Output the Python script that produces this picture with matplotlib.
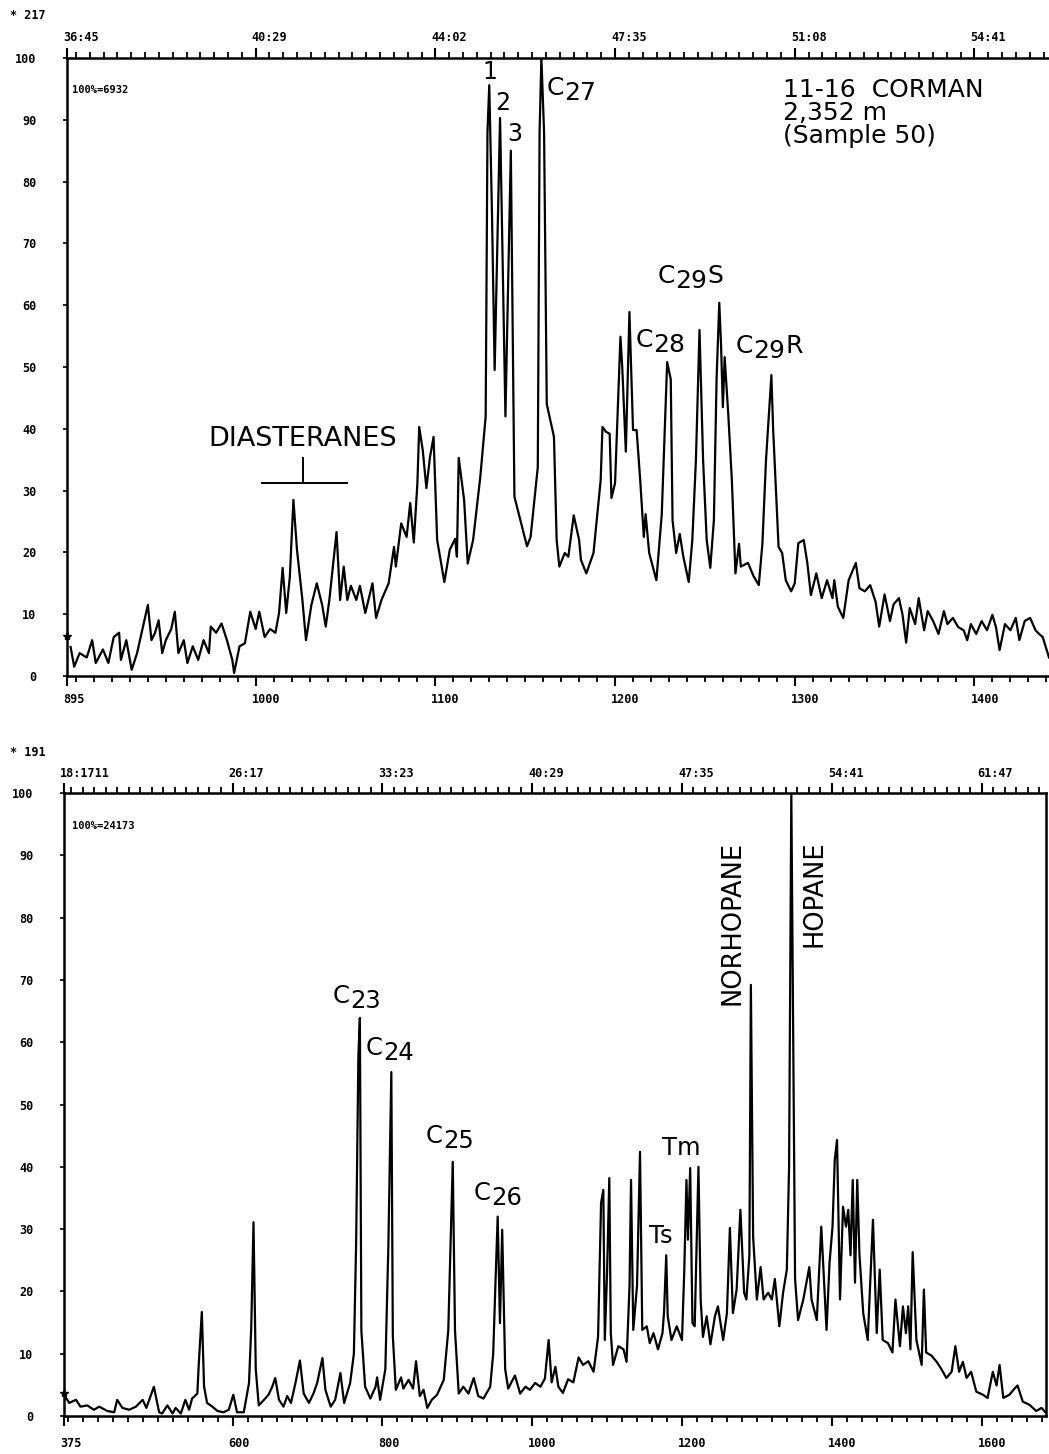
import numpy as np
import matplotlib
matplotlib.use("Agg")
import matplotlib.pyplot as plt
from matplotlib.transforms import ScaledTranslation

W, H = 1049, 1454

# ---- m/z 217 (steranes), scan number vs relative intensity (%)
top_scan = [897, 899, 902, 906, 909, 911, 915, 918, 921, 924, 925, 928, 931, 934, 937, 940,
            942, 944, 946, 948, 950, 953, 955, 957, 960, 962, 965, 968, 971, 974, 975, 978,
            981, 984, 987, 988, 991, 994, 997, 1000, 1002, 1005, 1008, 1011, 1013, 1015, 1017,
            1019, 1021, 1023, 1026, 1028, 1031, 1034, 1037, 1039, 1041, 1045, 1047, 1049, 1051,
            1053, 1056, 1058, 1061, 1065, 1067, 1070, 1074, 1077, 1078, 1081, 1084, 1086, 1088,
            1090, 1091, 1093, 1095, 1097, 1099, 1101, 1105, 1108, 1111, 1112, 1113, 1116, 1118,
            1121, 1125, 1128, 1129, 1130, 1131.5, 1133, 1136, 1139, 1142, 1144, 1151, 1153, 1157,
            1158, 1159, 1160.5, 1162, 1166, 1167.5, 1169, 1172, 1174, 1177, 1180, 1181, 1184,
            1188, 1192, 1193, 1195, 1197, 1198, 1200, 1203, 1204, 1206, 1208, 1210, 1212, 1214,
            1216, 1217, 1219, 1223, 1226, 1229, 1231, 1232, 1234, 1236, 1238, 1241, 1243, 1245,
            1247, 1249, 1251, 1253, 1255, 1256.5, 1258, 1259, 1260, 1261, 1263, 1265, 1267, 1269,
            1270, 1274, 1277, 1280, 1282, 1284, 1287, 1288, 1291, 1293, 1295, 1298, 1300, 1302,
            1305, 1307, 1309, 1312, 1315, 1318, 1321, 1322, 1324, 1327, 1330, 1334, 1336, 1339,
            1342, 1345, 1347, 1350, 1353, 1355, 1358, 1360, 1362, 1364, 1367, 1369, 1372, 1374,
            1377, 1380, 1383, 1385, 1388, 1391, 1394, 1396, 1398, 1401, 1404, 1407, 1410, 1412,
            1414, 1417, 1420, 1423, 1425, 1428, 1431, 1434, 1436, 1438, 1441.5]
top_int = [4.7, 1.5, 3.7, 3.0, 5.8, 2.1, 4.3, 2.1, 6.3, 7.0, 2.6, 5.8, 1.0, 3.7, 7.6, 11.5,
           5.8, 7.0, 9.0, 3.7, 5.8, 7.6, 10.4, 3.7, 5.8, 2.1, 4.8, 2.6, 5.8, 3.7, 8.0, 7.0,
           8.5, 5.8, 2.6, 0.5, 4.8, 5.3, 10.4, 7.6, 10.4, 6.3, 7.6, 7.0, 10.2, 17.5, 10.2,
           16.0, 28.5, 20.4, 12.3, 5.8, 11.5, 15.0, 11.5, 8.0, 12.3, 23.3, 12.3, 17.7, 12.3,
           14.6, 12.3, 14.6, 10.2, 15.0, 9.4, 12.3, 15.0, 20.9, 17.7, 24.7, 22.5, 28.0, 21.6,
           31.2, 40.3, 36.5, 30.4, 35.4, 38.7, 22.0, 15.2, 20.4, 22.2, 19.3, 35.3, 28.5, 18.2,
           22.0, 32.2, 42.0, 88.0, 95.6, 75.0, 49.5, 90.3, 42.0, 85.0, 29.0, 21.0, 22.5, 33.8,
           88.0, 100.0, 88.0, 44.0, 38.7, 22.0, 17.7, 19.9, 19.3, 26.0, 22.0, 18.8, 16.6,
           19.9, 31.7, 40.3, 39.5, 39.2, 28.8, 31.2, 54.9, 50.0, 36.3, 58.9, 39.8, 39.8, 31.7,
           22.5, 26.2, 19.9, 15.5, 26.2, 50.8, 48.0, 25.2, 19.9, 23.0, 19.3, 15.2, 22.0, 34.9,
           56.0, 34.9, 22.0, 17.5, 25.2, 48.0, 60.4, 53.5, 43.5, 51.6, 42.4, 31.7, 16.6, 21.4,
           17.7, 18.3, 16.2, 14.7, 21.4, 34.9, 48.7, 39.8, 20.9, 19.9, 15.5, 13.7, 15.0, 21.5,
           22.0, 18.3, 13.1, 16.6, 12.6, 15.5, 12.6, 15.5, 11.2, 9.4, 15.5, 18.3, 14.2, 13.7,
           14.7, 12.0, 8.0, 13.2, 8.9, 11.6, 12.6, 9.9, 5.4, 11.0, 8.4, 12.6, 7.4, 10.5,
           8.9, 6.8, 10.5, 8.4, 9.4, 7.9, 7.4, 5.8, 8.4, 6.8, 8.9, 7.4, 9.9, 7.9,
           4.2, 8.4, 7.4, 9.4, 5.8, 8.9, 9.4, 7.4, 6.8, 6.3, 3.0]

# ---- m/z 191 (terpanes)
bot_scan = [375, 382, 391, 397, 406, 415, 422, 433, 442, 446, 453, 462, 471, 480, 485, 495,
            502, 506, 513, 520, 524, 531, 537, 542, 546, 553, 555, 559, 562, 566, 573, 580,
            588, 595, 601, 606, 615, 622, 625, 628, 631, 635, 642, 648, 653, 657, 662, 668,
            673, 678, 684, 690, 695, 702, 708, 713, 720, 724, 731, 737, 744, 749, 757, 762,
            765, 768, 770, 772, 777, 784, 791, 793, 797, 804, 808, 812, 814, 818, 825, 828,
            835, 841, 845, 850, 855, 860, 866, 873, 882, 888, 892, 894, 897, 902, 908, 915,
            922, 928, 935, 944, 948, 951, 954, 957, 960, 964, 968, 977, 984, 991, 997, 1004,
            1011, 1017, 1022, 1026, 1031, 1035, 1041, 1048, 1055, 1062, 1068, 1075, 1082, 1088,
            1092, 1095, 1097, 1100, 1103, 1105, 1108, 1115, 1122, 1126, 1130, 1132, 1135, 1140,
            1144, 1147, 1153, 1157, 1162, 1168, 1174, 1176, 1179, 1181, 1186, 1193, 1200, 1203,
            1206, 1208, 1211, 1214, 1217, 1222, 1225, 1228, 1233, 1238, 1244, 1248, 1255, 1260,
            1264, 1268, 1273, 1278, 1283, 1286, 1290, 1292, 1295, 1300, 1305, 1309, 1315, 1320,
            1324, 1330, 1335, 1340, 1343, 1346, 1351, 1355, 1362, 1370, 1373, 1380, 1386, 1393,
            1397, 1401, 1404, 1407, 1411, 1415, 1419, 1422, 1425, 1428, 1431, 1434, 1437, 1442,
            1448, 1452, 1455, 1460, 1464, 1468, 1475, 1481, 1485, 1491, 1495, 1499, 1502, 1505,
            1508, 1513, 1520, 1523, 1526, 1533, 1540, 1546, 1553, 1560, 1565, 1570, 1575, 1580,
            1586, 1593, 1602, 1608, 1615, 1620, 1624, 1629, 1637, 1644, 1648, 1655, 1664, 1673,
            1680, 1686, 1689]
bot_int = [3.4, 2.1, 2.6, 1.5, 1.7, 1.0, 1.5, 0.8, 0.6, 2.6, 1.3, 1.0, 1.5, 2.6, 1.3, 4.7,
           0.6, 0.4, 1.7, 0.4, 1.3, 0.4, 2.6, 1.0, 2.8, 3.6, 8.5, 16.7, 4.7, 2.1, 1.5, 0.8,
           0.6, 1.0, 3.4, 0.6, 0.6, 5.3, 14.3, 31.1, 7.5, 1.7, 2.6, 3.4, 4.7, 6.1, 2.6, 1.5,
           3.2, 2.1, 5.3, 8.9, 3.6, 2.1, 3.6, 5.3, 9.3, 4.2, 1.5, 2.6, 6.9, 2.1, 5.3, 10.0,
           27.7, 57.7, 63.9, 13.7, 4.7, 2.8, 4.7, 6.2, 2.6, 7.5, 27.1, 55.2, 12.8, 4.2, 6.2, 4.4,
           5.8, 4.4, 8.8, 3.2, 4.2, 1.3, 2.6, 3.4, 5.8, 13.7, 32.0, 40.8, 13.7, 3.6, 4.7, 3.6,
           6.1, 3.2, 2.8, 4.7, 10.0, 21.3, 32.0, 14.9, 29.9, 7.5, 4.4, 6.5, 3.6, 4.7, 4.2, 5.3,
           4.7, 6.0, 12.2, 5.4, 7.9, 4.7, 3.7, 5.9, 5.4, 9.4, 8.2, 8.8, 7.1, 12.7,
           34.2, 36.3, 12.2, 23.0, 38.2, 13.3, 8.2, 11.2, 10.7, 8.7, 20.9, 37.9, 13.8, 20.9,
           42.4, 13.8, 14.4, 11.7, 13.3, 10.7, 13.3, 16.5, 25.8, 16.0, 12.2, 14.4, 12.2, 23.0,
           37.9, 28.3, 39.8, 14.9, 14.4, 40.0, 18.6, 12.7, 16.0, 11.5, 16.0, 17.6, 12.2, 16.5,
           30.2, 16.5, 20.3, 33.1, 19.8, 18.7, 25.8, 69.2, 28.8, 18.7, 23.9, 18.7, 19.8, 18.7,
           22.0, 14.4, 19.8, 23.5, 40.0, 100.0, 22.0, 15.4, 18.7, 23.9, 18.7, 15.4, 30.4, 13.8,
           24.6, 30.4, 41.1, 44.3, 18.7, 33.6, 30.4, 33.1, 25.8, 37.9, 21.4, 37.9, 25.8, 16.5,
           12.2, 23.0, 31.5, 13.3, 23.5, 12.2, 11.7, 10.2, 18.7, 11.2, 17.6, 13.3, 17.6, 10.7,
           26.3, 12.2, 8.2, 20.3, 10.2, 9.7, 8.7, 7.6, 6.1, 7.1, 11.2, 7.1, 8.7, 6.1,
           7.1, 3.9, 3.4, 2.9, 7.1, 4.9, 8.2, 2.9, 3.4, 4.4, 4.9, 2.3, 1.8, 0.8,
           1.3, 0.5, 1.3]

top_scan_ticks = [895, 1000, 1100, 1200, 1300, 1400]
top_time_labels = ["36:45", "40:29", "44:02", "47:35", "51:08", "54:41"]
bot_scan_ticks = [375, 600, 800, 1000, 1200, 1400, 1600]
bot_time_labels = ["18:1711", "26:17", "33:23", "40:29", "47:35", "54:41", "61:47"]
y_ticks = list(range(0, 101, 10))

# reference marks printed on the left axis (intensity %)
top_ref_mark = 6.5
bot_ref_mark = 3.7

MONO = "DejaVu Sans Mono"
SANS = "DejaVu Sans"

fig = plt.figure(figsize=(W / 100, H / 100), dpi=100)


def px_text(x, y, s, **kw):
    kw.setdefault("family", SANS)
    kw.setdefault("va", "baseline")
    return fig.text(x / W, 1 - y / H, s, **kw)


def sub_label(x, y, main, sub, tail="", size=18, drop=5):
    # "C" followed by a lowered, same-sized number (as in the original print)
    t = px_text(x, y, main, fontsize=size)
    fig.canvas.draw()
    bb = t.get_window_extent()
    t2 = px_text(bb.x1, y + drop, sub, fontsize=size)
    if tail:
        fig.canvas.draw()
        bb2 = t2.get_window_extent()
        px_text(bb2.x1, y, tail, fontsize=size)


def style_axes(ax, xlim, scan_ticks, minor_step, times, top_step, lab_pad, top_pad, right_spine):
    ax.set_xlim(*xlim)
    ax.set_ylim(0, 100)
    ax.set_yticks(y_ticks)
    ax.set_yticklabels([str(v) for v in y_ticks], family=MONO, fontweight="bold", fontsize=8.5)
    ax.tick_params(axis="y", length=3, width=1.2, pad=19, direction="out")
    ax.set_xticks(scan_ticks)
    ax.set_xticklabels([str(v) for v in scan_ticks], family=MONO, fontweight="bold",
                       fontsize=8.5, ha="left")
    first = scan_ticks[1]
    minor = np.concatenate([np.arange(first, xlim[0] - 1e-6, -minor_step),
                            np.arange(first, xlim[1], minor_step)])
    ax.set_xticks(minor, minor=True)
    ax.tick_params(axis="x", which="major", length=7, width=1.5, pad=lab_pad, direction="out")
    ax.tick_params(axis="x", which="minor", length=4, width=1.3, direction="out")
    shift = ScaledTranslation(-4 / 100, 0, fig.dpi_scale_trans)
    for lab in ax.get_xticklabels():
        lab.set_transform(lab.get_transform() + shift)
    for s in ["left", "bottom", "top"]:
        ax.spines[s].set_linewidth(1.8)
    ax.spines["right"].set_visible(right_spine)
    ax.spines["right"].set_linewidth(1.8)

    tx = ax.twiny()
    tx.set_xlim(*xlim)
    tx.set_xticks(scan_ticks)
    tx.set_xticklabels(times, family=MONO, fontweight="bold", fontsize=8.5, ha="left")
    tminor = np.concatenate([np.arange(first, xlim[0] - 1e-6, -top_step),
                             np.arange(first, xlim[1], top_step)])
    tx.set_xticks(tminor, minor=True)
    tx.tick_params(axis="x", which="major", length=7, width=1.5, pad=top_pad, direction="out")
    tx.tick_params(axis="x", which="minor", length=4, width=1.3, direction="out")
    for lab in tx.get_xticklabels():
        lab.set_transform(lab.get_transform() + shift)
    for s in tx.spines.values():
        s.set_visible(False)
    return tx


# ---------------- top panel: m/z 217
ax1 = fig.add_axes([67 / W, 1 - 676 / H, 1 - 67 / W, (676 - 58) / H])
ax1.plot(top_scan, top_int, color="black", lw=1.6, clip_on=True)
ax1.plot([895], [top_ref_mark], marker="*", ms=6, color="black", clip_on=False)
style_axes(ax1, (895, 1441.5), top_scan_ticks, 10, top_time_labels, 100 / 13,
           lab_pad=5, top_pad=3, right_spine=False)

# diasteranes bracket (scan range / intensity)
dia_left, dia_right, dia_mid, dia_y, dia_tip = 1003.5, 1050.8, 1026.3, 31.2, 35.3
ax1.plot([dia_left, dia_right], [dia_y, dia_y], color="black", lw=1.4)
ax1.plot([dia_mid, dia_mid], [dia_y, dia_tip], color="black", lw=1.4)

# ---------------- bottom panel: m/z 191
ax2 = fig.add_axes([64 / W, 1 - 1416 / H, (1046 - 64) / W, (1416 - 793) / H])
ax2.plot(bot_scan, bot_int, color="black", lw=1.6, clip_on=True)
ax2.plot([375], [bot_ref_mark], marker="*", ms=6, color="black", clip_on=False)
style_axes(ax2, (375, 1686), bot_scan_ticks, 20, bot_time_labels, 200 / 13,
           lab_pad=8, top_pad=2.5, right_spine=True)

# ---------------- header texts
px_text(10, 19, "* 217", family=MONO, fontweight="bold", fontsize=8.5)
px_text(10, 756, "* 191", family=MONO, fontweight="bold", fontsize=8.5)
px_text(72, 93, "100%=6932", family=MONO, fontweight="bold", fontsize=7.5)
px_text(72, 829, "100%=24173", family=MONO, fontweight="bold", fontsize=7.5)

px_text(783, 97, "11-16  CORMAN", fontsize=18)
px_text(783, 120, "2,352 m", fontsize=18)
px_text(783, 143, "(Sample 50)", fontsize=18)

# top panel peak labels
px_text(482, 79, "1", fontsize=17)
px_text(495, 110, "2", fontsize=17)
px_text(507, 141, "3", fontsize=17)
sub_label(547, 95, "C", "27", size=18)
sub_label(658, 283, "C", "29", "S", size=18)
sub_label(636, 347, "C", "28", size=18)
sub_label(736, 353, "C", "29", "R", size=18)
px_text(208, 446, "DIASTERANES", fontsize=19.5)

# bottom panel peak labels
sub_label(333, 1003, "C", "23", size=17.5)
sub_label(366, 1055, "C", "24", size=17.5)
sub_label(426, 1143, "C", "25", size=17.5)
sub_label(474, 1200, "C", "26", size=17.5)
px_text(662, 1155, "Tm", fontsize=17.5)
px_text(649, 1243, "Ts", fontsize=17.5)
px_text(732, 923, "NORHOPANE", fontsize=18.5, rotation=90, ha="center", va="center")
px_text(815, 894, "HOPANE", fontsize=18.5, rotation=90, ha="center", va="center")

fig.savefig("out.png", dpi=100)
